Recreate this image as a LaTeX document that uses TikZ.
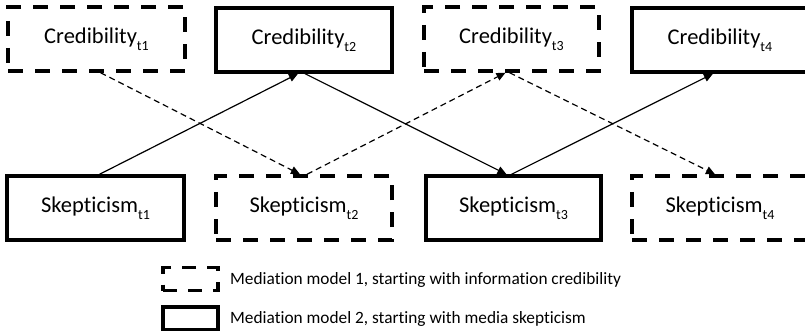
\documentclass[tikz,border=0pt]{standalone}
\usepackage{fontspec}
\setmainfont{Carlito}[Ligatures={NoCommon}]
\usetikzlibrary{arrows.meta}
\newcommand\lowidx[1]{\raisebox{-0.3em}{\fontsize{14}{14}\selectfont #1}}
\tikzset{
  varbox/.style={draw, line width=3.4pt, minimum height=64pt, inner sep=0pt,
                 font=\fontsize{22.5}{26}\selectfont, line join=miter},
  modelone/.style={varbox, dash pattern=on 15pt off 12pt},
  modeltwo/.style={varbox},
  path/.style={line width=1.2pt, -{Triangle[length=9pt,width=8pt]}},
  pathone/.style={path, dash pattern=on 6pt off 4pt},
  keybox/.style={draw, line width=3.4pt, minimum width=55pt, minimum height=23pt, inner sep=0pt},
  keytext/.style={anchor=west, inner sep=0pt, font=\fontsize{17.3}{20}\selectfont}
}
\begin{document}
\begin{tikzpicture}[x=1pt, y=-1pt]
  \useasboundingbox (0,0) rectangle (805,331);
  \clip (0,0) rectangle (805,331);

  % credibility row
  \node[modelone, minimum width=177pt] (c1) at (96.5,39) {Credibility\lowidx{t1}};
  \node[modeltwo, minimum width=176pt] (c2) at (304,40) {Credibility\lowidx{t2}};
  \node[modelone, minimum width=175pt] (c3) at (511.5,39) {Credibility\lowidx{t3}};
  \node[modeltwo, minimum width=176pt] (c4) at (720,40) {Credibility\lowidx{t4}};

  % skepticism row
  \node[modeltwo, minimum width=177pt] (s1) at (95.5,208) {Skepticism\lowidx{t1}};
  \node[modelone, minimum width=176pt] (s2) at (304,208) {Skepticism\lowidx{t2}};
  \node[modeltwo, minimum width=175pt] (s3) at (513.5,208) {Skepticism\lowidx{t3}};
  \node[modelone, minimum width=176pt] (s4) at (720,208) {Skepticism\lowidx{t4}};

  % model 1: credibility -> skepticism -> credibility -> skepticism
  \draw[pathone] ([xshift=4pt]c1.south) -- ([xshift=-4pt]s2.north);
  \draw[pathone] ([xshift=3pt]s2.north) -- ([xshift=-6pt]c3.south);
  \draw[pathone] ([xshift=-2pt]c3.south) -- ([xshift=-5pt]s4.north);

  % model 2: skepticism -> credibility -> skepticism -> credibility
  \draw[path] ([xshift=4pt]s1.north) -- ([xshift=-6pt]c2.south);
  \draw[path] ([xshift=1pt]c2.south) -- ([xshift=-7pt]s3.north);
  \draw[path] ([xshift=-2pt]s3.north) -- ([xshift=-7pt]c4.south);

  % legend
  \node[keybox, dash pattern=on 14pt off 11pt] (k1) at (190.5,279) {};
  \node[keybox] (k2) at (190.5,318.5) {};
  \node[keytext] (t1) at (230,280) {Mediation model 1, starting with information credibility};
  \node[keytext] (t2) at (230,319) {Mediation model 2, starting with media skepticism};
\end{tikzpicture}
\end{document}
